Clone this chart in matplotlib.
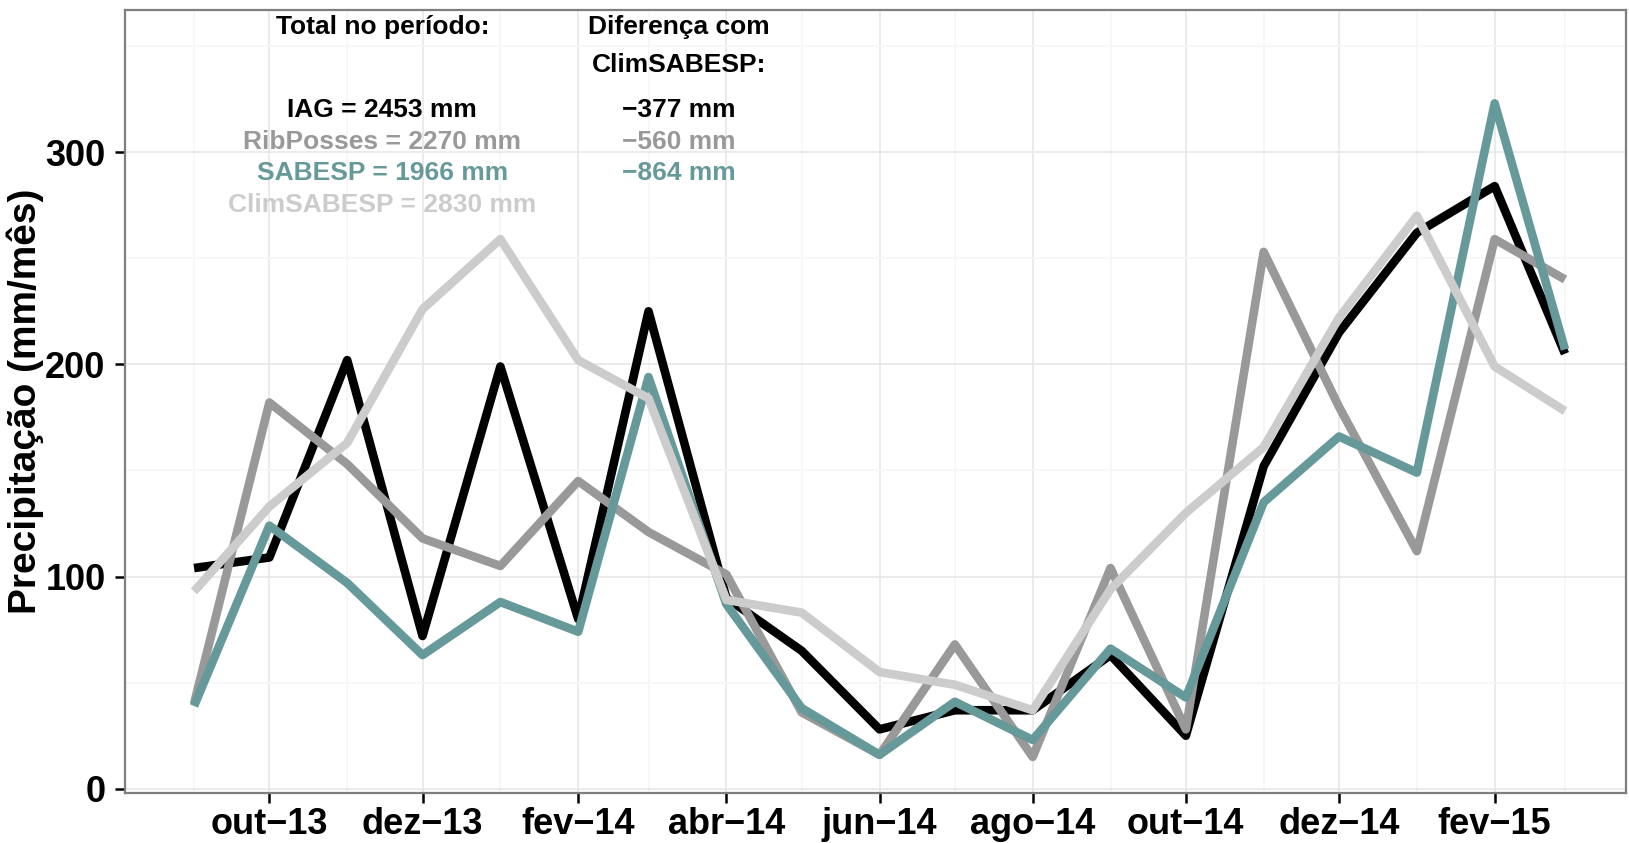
import numpy as np
import pandas as pd
import matplotlib
matplotlib.use("Agg")
import matplotlib.pyplot as plt
import matplotlib.dates as mdates
from matplotlib.ticker import FuncFormatter

# ── Data ──────────────────────────────────────────────────────────────────────
months = pd.date_range("2013-09-01", "2015-03-01", freq="MS")

iag    = [104, 109, 202, 72, 199, 80, 225, 90, 65, 28, 37, 37, 63, 25, 152, 215, 262, 284, 205]
rib    = [40, 182, 153, 118, 105, 145, 121, 101, 36, 16, 68, 15, 104, 28, 253, 180, 112, 259, 240]
sabesp = [39, 124, 97, 63, 88, 74, 194, 87, 38, 16, 41, 23, 66, 43, 135, 166, 149, 323, 207]
clim   = [93, 133, 163, 226, 259, 202, 184, 89, 83, 55, 49, 37, 94, 130, 161, 222, 270, 199, 178]

series_names  = ["IAG", "RibPosses", "SABESP", "ClimSABESP"]
series_colors = ["#000000", "#999999", "#669999", "#CCCCCC"]
totals_text   = ["IAG = 2453 mm", "RibPosses = 2270 mm", "SABESP = 1966 mm", "ClimSABESP = 2830 mm"]
diff_text     = ["\u2212377 mm", "\u2212560 mm", "\u2212864 mm"]
month_abbr    = ["jan", "fev", "mar", "abr", "mai", "jun", "jul", "ago", "set", "out", "nov", "dez"]

# ── Style ─────────────────────────────────────────────────────────────────────
plt.rcParams["font.family"] = ["Liberation Sans", "DejaVu Sans"]
plt.rcParams["font.weight"] = "bold"

fig = plt.figure(figsize=(16.29, 8.43), dpi=100)
ax = fig.add_axes([125 / 1629, 1 - 793 / 843, 1501 / 1629, 783 / 843])

# ── Lines ─────────────────────────────────────────────────────────────────────
for vals, name, col in zip([iag, rib, sabesp, clim], series_names, series_colors):
    ax.plot(months, vals, color=col, lw=6.2, solid_joinstyle="round",
            solid_capstyle="butt", label=name, zorder=3)

# ── Annotations ───────────────────────────────────────────────────────────────
x_tot = pd.Timestamp("2013-11-15")
x_dif = pd.Timestamp("2014-03-13")
ann_y = [320, 305, 290, 275]
fs = 19
ax.text(x_tot, 359, "Total no período:", ha="center", va="center", fontsize=fs, fontweight="bold")
ax.text(x_dif, 359, "Diferença com", ha="center", va="center", fontsize=fs, fontweight="bold")
ax.text(x_dif, 341, "ClimSABESP:", ha="center", va="center", fontsize=fs, fontweight="bold")
for txt, col, y in zip(totals_text, series_colors, ann_y):
    ax.text(x_tot, y, txt, ha="center", va="center", fontsize=fs, fontweight="bold", color=col)
for txt, col, y in zip(diff_text, series_colors, ann_y):
    ax.text(x_dif, y, txt, ha="center", va="center", fontsize=fs, fontweight="bold", color=col)

# ── Axes ──────────────────────────────────────────────────────────────────────
ax.set_xlim(months[0] - pd.Timedelta(days=27.5), months[-1] + pd.Timedelta(days=24.3))
ax.set_ylim(-2, 367)

ax.xaxis.set_major_locator(mdates.MonthLocator(bymonth=[2, 4, 6, 8, 10, 12]))
ax.xaxis.set_minor_locator(mdates.MonthLocator(bymonth=[1, 3, 5, 7, 9, 11]))

def fmt_month(x, pos):
    d = mdates.num2date(x)
    return f"{month_abbr[d.month - 1]}\u2212{d.strftime('%y')}"

ax.xaxis.set_major_formatter(FuncFormatter(fmt_month))
ax.set_yticks([0, 100, 200, 300])
ax.set_yticks([50, 150, 250, 350], minor=True)

ax.grid(which="major", color="#E5E5E5", lw=1.1, zorder=0)
ax.grid(which="minor", color="#F7F7F7", lw=1.4, zorder=0)
ax.set_axisbelow(True)

for s in ax.spines.values():
    s.set_color("#7F7F7F")
    s.set_linewidth(1.6)

ax.tick_params(which="major", length=7, width=1.8, color="black",
               labelsize=26, pad=3)
ax.tick_params(axis="y", pad=7)
ax.tick_params(which="minor", length=0)
for lab in ax.get_xticklabels() + ax.get_yticklabels():
    lab.set_fontweight("bold")

ax.set_ylabel("Precipitação (mm/mês)", fontsize=28, fontweight="bold", va="center")
ax.yaxis.set_label_coords(-0.0666, 0.5)

fig.savefig("out.png", dpi=100)
